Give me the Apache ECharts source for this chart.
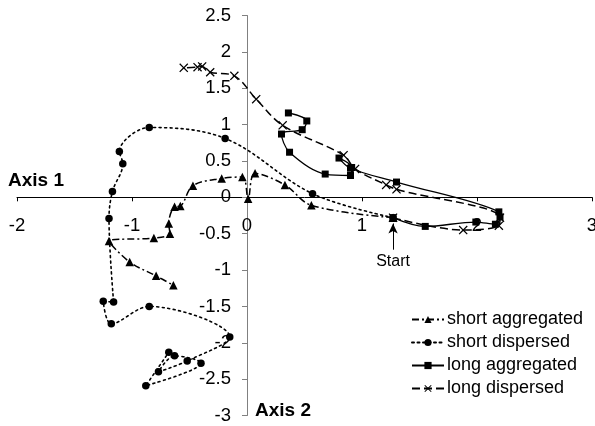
<!DOCTYPE html>
<html><head><meta charset="utf-8">
<script src="https://cdn.jsdelivr.net/npm/echarts@6/dist/echarts.min.js"></script>
<style>html,body{margin:0;padding:0;background:#fff}#c{width:595px;height:426px}</style>
</head><body><div id="c"></div>
<script>
const seriesNames = ['short aggregated', 'short dispersed', 'long aggregated', 'long dispersed'];

const shortAggX = [1.27, 0.56, 0.33, 0.07, 0.01, -0.04, -0.22, -0.47, -0.58, -0.63, -0.68, -0.67, -0.81, -1.20, -1.02, -0.79, -0.64];
const shortAggY = [-0.28, -0.11, 0.17, 0.33, -0.02, 0.28, 0.26, 0.16, -0.12, -0.13, -0.36, -0.50, -0.56, -0.60, -0.89, -1.08, -1.21];

const shortDispX = [1.27, 0.57, -0.19, -0.85, -1.11, -1.08, -1.17, -1.20, -1.16, -1.25, -1.18, -0.85, -0.15, -0.52, -0.77, -0.63, -0.40, -0.88, -0.68];
const shortDispY = [-0.28, 0.05, 0.81, 0.96, 0.63, 0.46, 0.08, -0.29, -1.44, -1.43, -1.74, -1.50, -1.92, -2.25, -2.40, -2.18, -2.28, -2.59, -2.13];

const longAggX = [1.27, 1.55, 1.99, 2.16, 2.20, 2.19, 1.30, 0.90, 0.80, 0.91, 0.90, 0.68, 0.37, 0.30, 0.48, 0.52, 0.36];
const longAggY = [-0.28, -0.40, -0.34, -0.37, -0.27, -0.20, 0.21, 0.40, 0.54, 0.41, 0.30, 0.32, 0.62, 0.87, 0.93, 1.05, 1.16];

const longDispX = [1.27, 1.88, 2.19, 2.20, 1.30, 1.21, 0.94, 0.84, 0.31, 0.08, -0.11, -0.32, -0.39, -0.43, -0.55];
const longDispY = [-0.28, -0.45, -0.39, -0.28, 0.11, 0.17, 0.39, 0.58, 0.99, 1.35, 1.67, 1.72, 1.80, 1.79, 1.78];

const xTicks = [-2, -1, 0, 1, 2, 3];
const yTicks = [-3, -2.5, -2, -1.5, -1, -0.5, 0, 0.5, 1, 1.5, 2, 2.5];
const axisNames = ['Axis 1', 'Axis 2'];
const startLabel = 'Start';
const startArrowFrom = [1.27, -0.72];
const startArrowTo = [1.27, -0.36];

function pairs(xs, ys) { return xs.map((x, i) => [x, ys[i]]); }

const W = 595, H = 426;
const G = {left: 17, right: 3, top: 15.5, bottom: 10.5};
const gw = W - G.left - G.right, gh = H - G.top - G.bottom;
const xMin = xTicks[0], xMax = xTicks[xTicks.length - 1];
const yMin = yTicks[0], yMax = yTicks[yTicks.length - 1];
// place the axes so that they cross at the origin
const xAxisOffset = -((0 - yMin) / (yMax - yMin)) * gh;
const yAxisOffset = -((0 - xMin) / (xMax - xMin)) * gw;

const FONT = '"Liberation Sans", Arial, sans-serif';
const crossPath = 'path://M0,1L1,0L5,4L9,0L10,1L6,5L10,9L9,10L5,6L1,10L0,9L4,5Z';

const chart = echarts.init(document.getElementById('c'), null, {renderer: 'canvas'});
chart.setOption({
  animation: false,
  backgroundColor: '#fff',
  textStyle: {fontFamily: FONT},
  grid: {left: G.left, right: G.right, top: G.top, bottom: G.bottom, containLabel: false, outerBoundsMode: 'none'},
  xAxis: {
    type: 'value', min: xMin, max: xMax, interval: 1, position: 'bottom', offset: xAxisOffset,
    name: axisNames[0], nameLocation: 'start', nameGap: 9,
    nameTextStyle: {fontFamily: FONT, fontSize: 19, fontWeight: 'bold', color: '#000', align: 'left', verticalAlign: 'bottom', padding: [0, 0, 7, 0]},
    axisLine: {onZero: false, lineStyle: {color: '#000', width: 1}},
    axisTick: {show: true, inside: false, length: 4, lineStyle: {color: '#000'}},
    axisLabel: {margin: 19, fontFamily: FONT, fontSize: 18.5, color: '#000'},
    splitLine: {show: false}
  },
  yAxis: {
    type: 'value', min: yMin, max: yMax, interval: 0.5, position: 'left', offset: yAxisOffset,
    name: axisNames[1], nameLocation: 'start', nameGap: -5,
    nameTextStyle: {fontFamily: FONT, fontSize: 19, fontWeight: 'bold', color: '#000', align: 'left', verticalAlign: 'middle', padding: [0, 0, 0, 8]},
    axisLine: {onZero: false, lineStyle: {color: '#808080', width: 1}},
    axisTick: {show: true, inside: false, length: 5, lineStyle: {color: '#808080'}},
    axisLabel: {margin: 16, fontFamily: FONT, fontSize: 18.5, color: '#000'},
    splitLine: {show: false}
  },
  legend: {
    orient: 'vertical', left: 406, top: 305,
    data: seriesNames,
    itemWidth: 32, itemHeight: 9, itemGap: 4,
    textStyle: {fontFamily: FONT, fontSize: 18, lineHeight: 19, color: '#000', padding: [0, 0, 0, -2]}
  },
  series: [
    {
      name: seriesNames[0], type: 'line', data: pairs(shortAggX, shortAggY), z: 3,
      smooth: 0.35, symbol: 'triangle', symbolSize: 8.5, showAllSymbol: true,
      itemStyle: {color: '#000'},
      lineStyle: {color: '#000', width: 1.5, type: [7, 3, 2, 3]},
      markLine: {
        silent: true, symbol: ['none', 'arrow'], symbolSize: [7, 10],
        lineStyle: {color: '#000', width: 1, type: 'solid'},
        label: {show: true, position: 'start', formatter: startLabel, fontFamily: FONT, fontSize: 16, color: '#000', distance: 4},
        data: [[{coord: startArrowFrom}, {coord: startArrowTo}]]
      }
    },
    {
      name: seriesNames[1], type: 'line', data: pairs(shortDispX, shortDispY), z: 2,
      smooth: 0.35, symbol: 'circle', symbolSize: 7.5, showAllSymbol: true,
      itemStyle: {color: '#000'},
      lineStyle: {color: '#000', width: 1.6, type: [2, 3.5], cap: 'round'}
    },
    {
      name: seriesNames[2], type: 'line', data: pairs(longAggX, longAggY), z: 5,
      smooth: 0.35, symbol: 'rect', symbolSize: 7, showAllSymbol: true,
      itemStyle: {color: '#000'},
      lineStyle: {color: '#000', width: 1.3, type: 'solid'}
    },
    {
      name: seriesNames[3], type: 'line', data: pairs(longDispX, longDispY), z: 4,
      smooth: 0.35, symbol: crossPath, symbolSize: 9, showAllSymbol: true,
      itemStyle: {color: '#000'},
      lineStyle: {color: '#000', width: 1.5, type: [8, 4]}
    }
  ]
});
</script>
</body></html>
